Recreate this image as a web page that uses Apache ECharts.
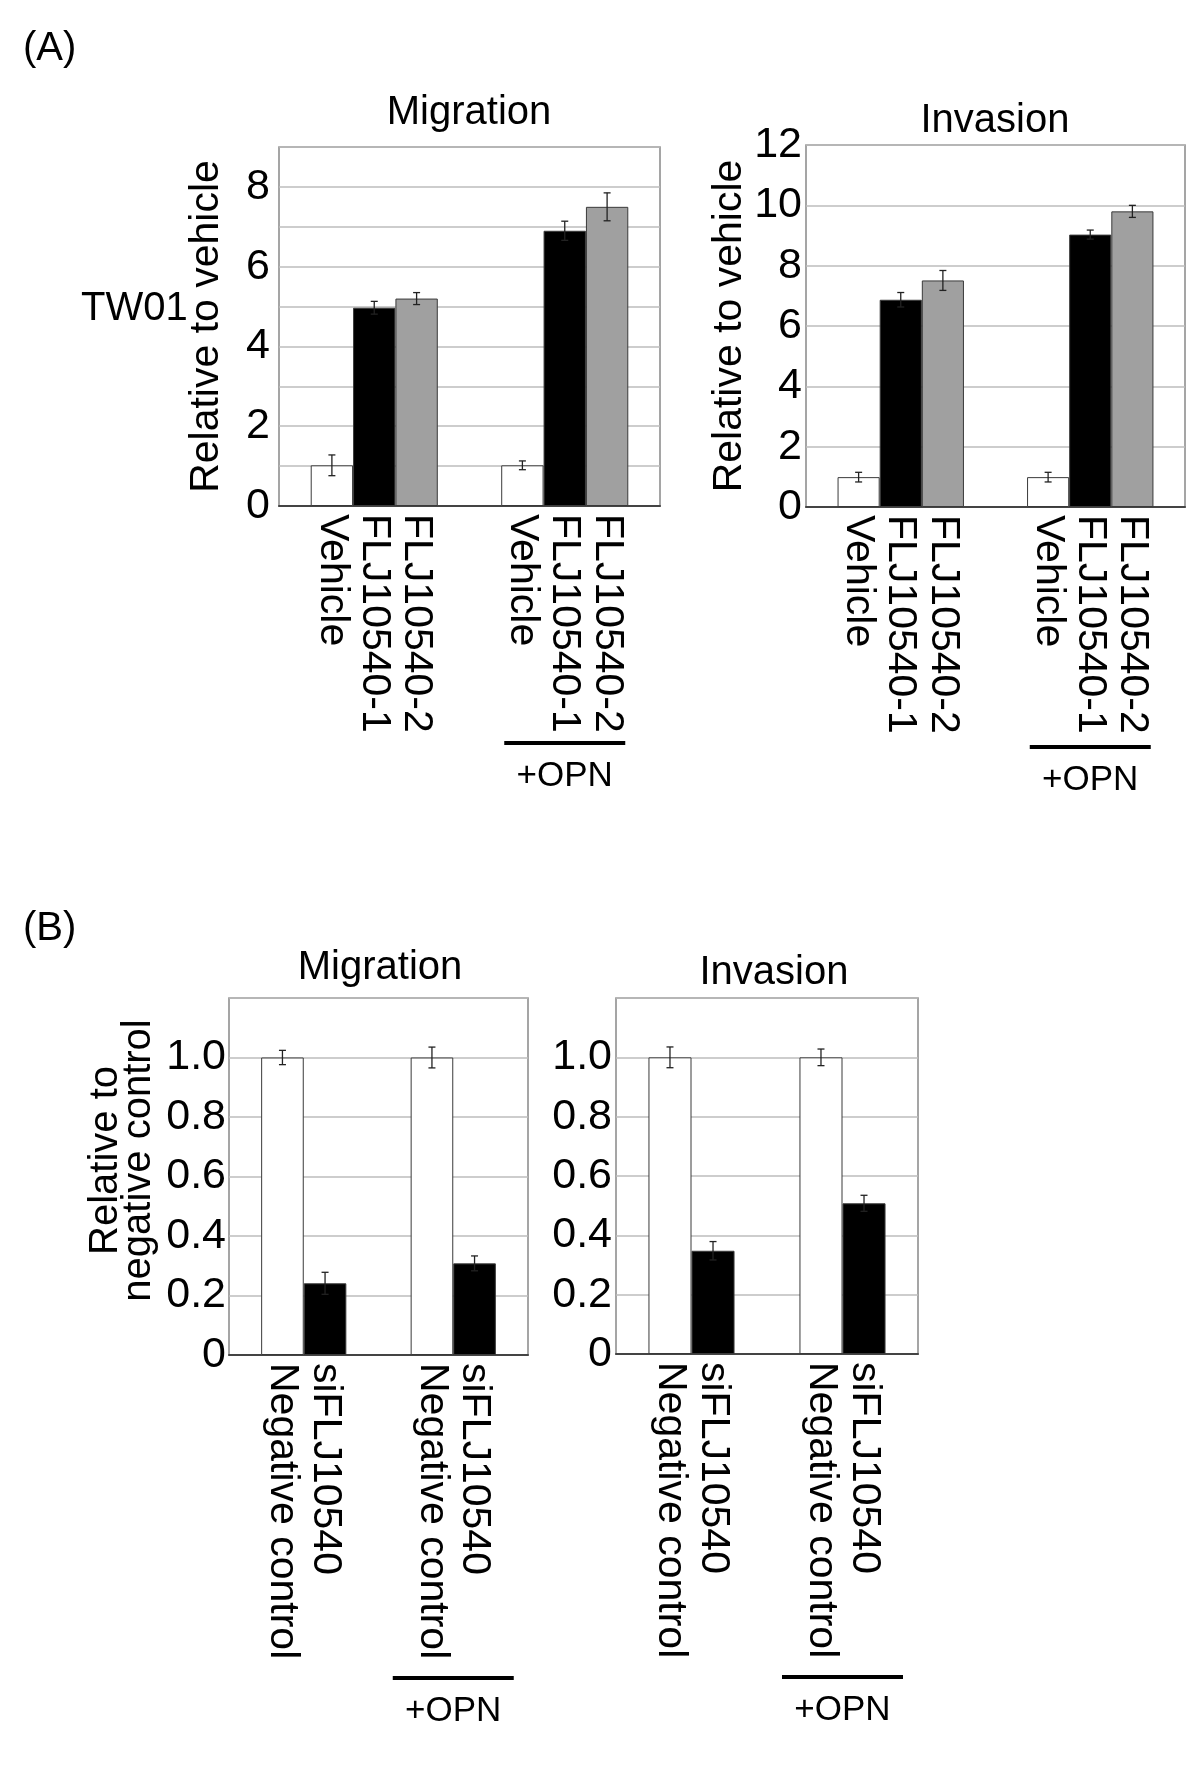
<!DOCTYPE html>
<html>
<head>
<meta charset="utf-8">
<script src="https://cdn.jsdelivr.net/npm/echarts@6/dist/echarts.min.js"></script>
<style>
  html, body { margin: 0; padding: 0; background: #fff; }
  #chart { width: 1200px; height: 1772px; }
</style>
</head>
<body>
<div id="chart"></div>
<script>
// group labels under each pair / triple of bars
const groupLabels = ['', '+OPN']

// (A) TW01: series values per group [no OPN, +OPN]
const namesA = ['Vehicle', 'FLJ10540-1', 'FLJ10540-2']
const migrationA = [[1.02, 1.02], [4.97, 6.90], [5.20, 7.50]]
const migrationAErr = [[0.26, 0.11], [0.16, 0.24], [0.15, 0.35]]
const invasionA = [[0.99, 0.99], [6.87, 9.03], [7.51, 9.80]]
const invasionAErr = [[0.16, 0.16], [0.24, 0.15], [0.33, 0.20]]

// (B) knockdown
const namesB = ['Negative control', 'siFLJ10540']
const migrationB = [[1.0, 1.0], [0.241, 0.308]]
const migrationBErr = [[0.024, 0.035], [0.037, 0.025]]
const invasionB = [[1.0, 1.0], [0.348, 0.508]]
const invasionBErr = [[0.035, 0.028], [0.031, 0.027]]

const colorsA = ['#ffffff', '#000000', '#a0a0a0']
const colorsB = ['#ffffff', '#000000']

const FONT = "'Liberation Sans', Arial, Helvetica, sans-serif"
const GAP_A = 0.333
const GAP_B = 0.43

const chart = echarts.init(document.getElementById('chart'))

function makeBars(gridIdx, names, values, colors, gap) {
  return names.map((name, k) => ({
    name: name,
    type: 'bar',
    xAxisIndex: gridIdx,
    yAxisIndex: gridIdx,
    data: values[k],
    barGap: '0%',
    barCategoryGap: (gap * 100) + '%',
    itemStyle: { color: colors[k], borderColor: '#3a3a3a', borderWidth: 1 },
    label: {
      show: true,
      position: 'bottom',
      distance: 8,
      rotate: -90,
      align: 'left',
      verticalAlign: 'middle',
      formatter: '{a}',
      fontSize: 41,
      color: '#000',
      fontFamily: FONT
    },
    silent: true
  }))
}

// error bars drawn over each bar, using the axis band to find the bar centre
function makeErrors(gridIdx, values, errs, gap) {
  const n = values.length
  return values.map((vals, k) => ({
    type: 'custom',
    xAxisIndex: gridIdx,
    yAxisIndex: gridIdx,
    z: 5,
    silent: true,
    data: vals.map((v, g) => [g, v, errs[k][g]]),
    renderItem: (params, api) => {
      const g = api.value(0)
      const v = api.value(1)
      const e = api.value(2)
      const band = api.size([1, 0])[0]
      const bw = band * (1 - gap) / n
      const cx = api.coord([g, 0])[0] - band * (1 - gap) / 2 + bw * (k + 0.5)
      const yTop = api.coord([g, v + e])[1]
      const yBot = api.coord([g, v - e])[1]
      const cap = 3.5
      const style = { stroke: '#222', lineWidth: 1.3 }
      return {
        type: 'group',
        children: [
          { type: 'line', shape: { x1: cx, y1: yTop, x2: cx, y2: yBot }, style },
          { type: 'line', shape: { x1: cx - cap, y1: yTop, x2: cx + cap, y2: yTop }, style },
          { type: 'line', shape: { x1: cx - cap, y1: yBot, x2: cx + cap, y2: yBot }, style }
        ]
      }
    }
  }))
}

function xAxisFor(gridIdx, margin) {
  return {
    type: 'category',
    gridIndex: gridIdx,
    data: groupLabels,
    axisTick: { show: false },
    axisLine: { lineStyle: { color: '#444', width: 2 } },
    splitLine: { show: false },
    axisLabel: {
      interval: 0,
      margin: margin,
      formatter: (v) => v ? '{ln|}\n{t|' + v + '}' : '',
      rich: {
        ln: { width: 121, height: 4, lineHeight: 4, backgroundColor: '#000' },
        t: { fontSize: 35, lineHeight: 62, color: '#000', fontFamily: FONT }
      }
    }
  }
}

function yAxisFor(gridIdx, opts) {
  return {
    type: 'value',
    gridIndex: gridIdx,
    min: 0,
    max: opts.max,
    interval: opts.interval,
    axisLine: { show: false },
    axisTick: { show: false },
    splitLine: { lineStyle: { color: '#bdbdbd', width: 1.5 } },
    axisLabel: {
      fontSize: 43,
      color: '#000',
      fontFamily: FONT,
      margin: opts.labelMargin,
      formatter: opts.formatter
    },
    name: opts.name || '',
    nameLocation: 'middle',
    nameRotate: 90,
    nameGap: opts.nameGap || 50,
    nameTextStyle: Object.assign({ fontSize: 41, color: '#000', fontFamily: FONT }, opts.nameStyle || {})
  }
}

const gridBase = { show: true, borderColor: '#888', borderWidth: 1.5, outerBoundsMode: 'none', containLabel: false }

const titleStyle = { fontSize: 40, fontWeight: 'normal', color: '#000', fontFamily: FONT }
function titleAt(text, left, top, align) {
  return { text, left, top, padding: 0, textAlign: align, textVerticalAlign: 'top', textStyle: titleStyle }
}

const option = {
  backgroundColor: '#fff',
  animation: false,
  textStyle: { fontFamily: FONT },
  title: [
    titleAt('(A)', 23, 29, 'left'),
    titleAt('TW01', 81, 289, 'left'),
    titleAt('Migration', 469, 93, 'center'),
    titleAt('Invasion', 995, 101, 'center'),
    titleAt('(B)', 23, 909, 'left'),
    titleAt('Migration', 380, 948, 'center'),
    titleAt('Invasion', 774, 953, 'center')
  ],
  grid: [
    Object.assign({ left: 279, top: 147, width: 381, height: 359 }, gridBase),
    Object.assign({ left: 806, top: 145, width: 379, height: 362 }, gridBase),
    Object.assign({ left: 229, top: 998, width: 299, height: 357 }, gridBase),
    Object.assign({ left: 616, top: 998, width: 302, height: 356 }, gridBase)
  ],
  xAxis: [
    xAxisFor(0, 235),
    xAxisFor(1, 238),
    xAxisFor(2, 321),
    xAxisFor(3, 321)
  ],
  yAxis: [
    yAxisFor(0, {
      max: 9, interval: 1, labelMargin: 9,
      formatter: (v) => v % 2 === 0 ? String(v) : '',
      name: 'Relative to vehicle', nameGap: 52
    }),
    yAxisFor(1, {
      max: 12, interval: 2, labelMargin: 4,
      formatter: (v) => String(v),
      name: 'Relative to vehicle', nameGap: 50
    }),
    yAxisFor(2, {
      max: 1.2, interval: 0.2, labelMargin: 3,
      formatter: (v) => v === 0 ? '0' : (v > 1.1 ? '' : v.toFixed(1)),
      name: 'Relative to\nnegative control', nameGap: 74,
      nameStyle: { fontSize: 40, lineHeight: 33, padding: [0, 0, 0, 32] }
    }),
    yAxisFor(3, {
      max: 1.2, interval: 0.2, labelMargin: 4,
      formatter: (v) => v === 0 ? '0' : (v > 1.1 ? '' : v.toFixed(1))
    })
  ],
  series: [].concat(
    makeBars(0, namesA, migrationA, colorsA, GAP_A),
    makeErrors(0, migrationA, migrationAErr, GAP_A),
    makeBars(1, namesA, invasionA, colorsA, GAP_A),
    makeErrors(1, invasionA, invasionAErr, GAP_A),
    makeBars(2, namesB, migrationB, colorsB, GAP_B),
    makeErrors(2, migrationB, migrationBErr, GAP_B),
    makeBars(3, namesB, invasionB, colorsB, GAP_B),
    makeErrors(3, invasionB, invasionBErr, GAP_B)
  )
}

chart.setOption(option)
</script>
</body>
</html>
